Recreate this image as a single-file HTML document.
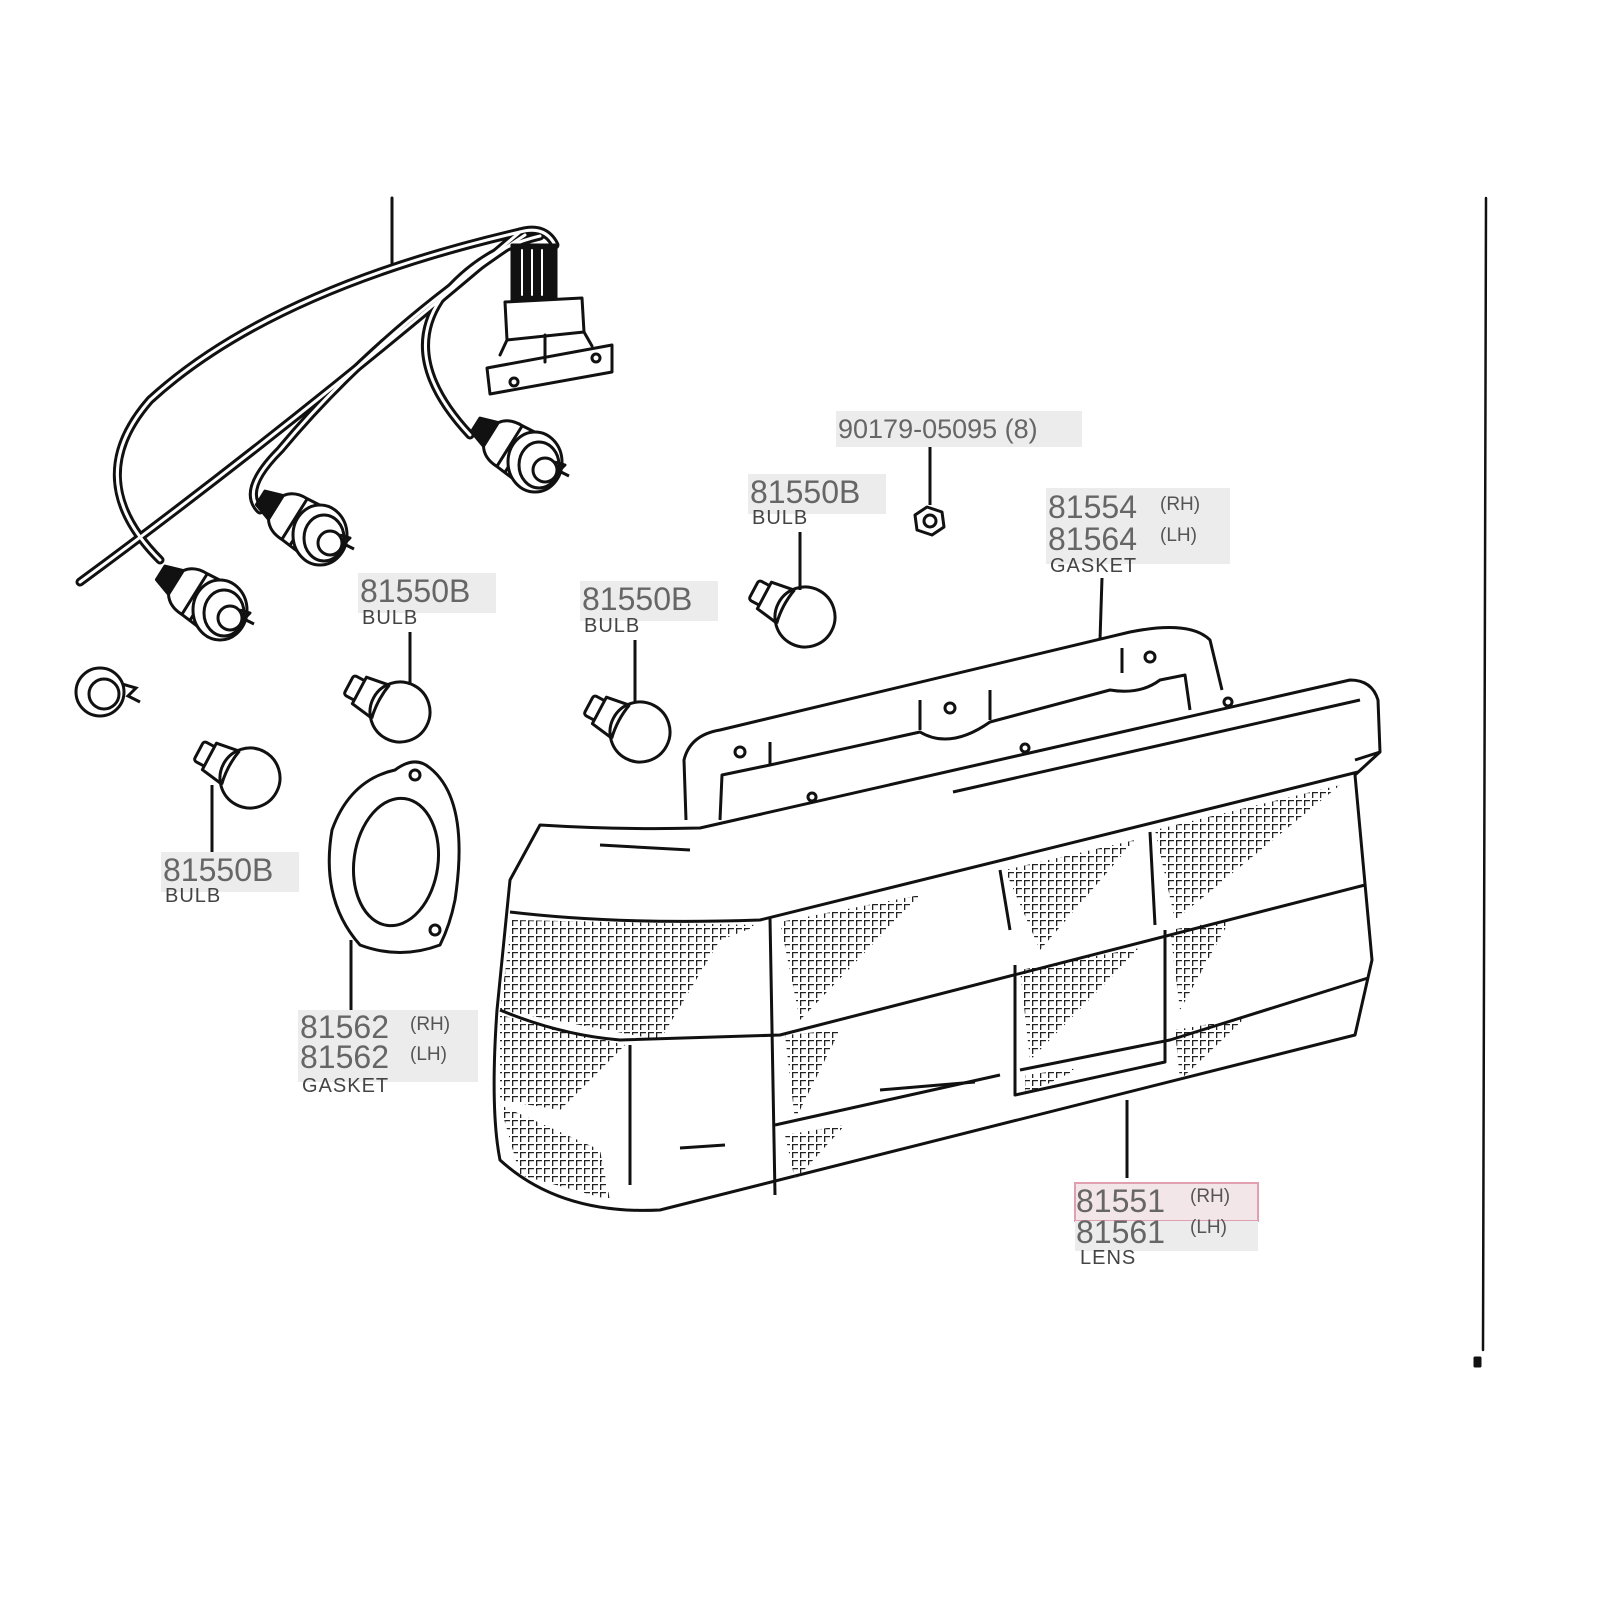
<!DOCTYPE html>
<html><head><style>
html,body{margin:0;padding:0;background:#fff;overflow:hidden}
svg{display:block}
.t{font-family:"Liberation Sans",sans-serif;fill:#666}
.big{font-size:32px}
.sm{font-size:20px;fill:#444;letter-spacing:1px}
.xs{font-size:19px;fill:#555}
</style></head><body>
<svg width="1600" height="1600" viewBox="0 0 1600 1600" xmlns="http://www.w3.org/2000/svg">
<defs>
<pattern id="g" width="8" height="8" patternUnits="userSpaceOnUse">
<path d="M0 0.5H6M0.5 0V6" stroke="#222" stroke-width="1.6"/>
</pattern>
<g id="bulb" fill="#fff" stroke="#111" stroke-width="3" stroke-linejoin="round">
<g transform="rotate(28)">
<rect x="-58" y="-11" width="14" height="22" rx="3"/>
<path d="M-46 -15 L-20 -19 L-20 19 L-46 15 Z"/>
<circle cx="0" cy="0" r="30"/>
<path d="M-22 -19 Q-26 0 -22 19" fill="none"/>
</g>
</g>
<g id="sock" fill="#fff" stroke="#111" stroke-width="3" stroke-linejoin="round">
<g transform="rotate(32)">
<path d="M-70 -8 L-52 -14 L-52 14 L-70 8 Z" fill="#111"/>
<path d="M-52 -14 Q-45 -24 -30 -24 L-8 -26 L-8 26 L-30 24 Q-45 24 -52 14 Z"/>
<path d="M-30 -24 L-30 24 M-20 -25 L-20 25"/>
</g>
<ellipse cx="0" cy="0" rx="27" ry="30"/>
<ellipse cx="4" cy="3" rx="20" ry="23"/>
<circle cx="10" cy="8" r="12"/>
<path d="M20 0 l10 3 l-6 6 l10 5" fill="none"/>
</g>
</defs>
<g fill="none" stroke="#111" stroke-width="3" stroke-linecap="round" stroke-linejoin="round">
<line x1="392" y1="198" x2="392" y2="265"/>
<line x1="1486" y1="198" x2="1483" y2="1350" stroke-width="2.5"/>
<rect x="1475" y="1358" width="5" height="8" fill="#111"/>
<!-- wires (double line) -->
<g stroke-width="9">
<path d="M80 582 Q300 420 520 232"/>
<path d="M160 560 Q80 480 150 400 Q270 290 520 232"/>
<path d="M260 510 Q240 490 280 450 Q380 330 525 235"/>
<path d="M470 435 Q400 360 440 300 Q480 250 540 236"/>
<path d="M520 232 Q545 225 555 245"/>
</g>
<g stroke="#fff" stroke-width="3">
<path d="M80 582 Q300 420 520 232"/>
<path d="M160 560 Q80 480 150 400 Q270 290 520 232"/>
<path d="M260 510 Q240 490 280 450 Q380 330 525 235"/>
<path d="M470 435 Q400 360 440 300 Q480 250 540 236"/>
<path d="M520 232 Q545 225 555 245"/>
</g>
<!-- connector -->
<rect x="512" y="245" width="44" height="55" fill="#111"/>
<path d="M522 250v45M532 250v45M542 250v45" stroke="#fff" stroke-width="2"/>
<path d="M505 302 L582 298 L584 332 L507 340 Z" fill="#fff"/>
<path d="M487 368 L612 345 L612 372 L490 394 Z" fill="#fff"/>
<path d="M507 340 L500 355 M584 332 L592 346 M545 335 L545 362"/>
<circle cx="514" cy="382" r="4"/><circle cx="596" cy="358" r="4"/>
</g>
<use href="#sock" x="535" y="462"/>
<use href="#sock" x="320" y="535"/>
<use href="#sock" x="220" y="610"/>
<g fill="none" stroke="#111" stroke-width="3">
<circle cx="100" cy="692" r="24"/><circle cx="104" cy="694" r="15"/>
<path d="M122 684 l14 4 l-8 8 l12 6"/>
</g>
<use href="#bulb" x="400" y="712"/>
<use href="#bulb" x="640" y="732"/>
<use href="#bulb" x="805" y="617"/>
<use href="#bulb" x="250" y="778"/>
<g fill="none" stroke="#111" stroke-width="3" stroke-linejoin="round">
<path d="M915 515 l12 -8 l15 5 l2 15 l-12 8 l-15 -5 z" fill="#fff"/>
<circle cx="930" cy="521" r="6"/>
<line x1="410" y1="632" x2="410" y2="685"/>
<line x1="635" y1="640" x2="635" y2="702"/>
<line x1="800" y1="532" x2="800" y2="590"/>
<line x1="930" y1="446" x2="930" y2="505"/>
<line x1="212" y1="785" x2="212" y2="852"/>
<line x1="1102" y1="578" x2="1100" y2="640"/>
<line x1="351" y1="940" x2="351" y2="1010"/>
<line x1="1127" y1="1100" x2="1127" y2="1178"/>
<path d="M395 770 Q415 755 430 768 Q470 800 455 900 Q450 925 440 945 Q400 960 360 945 Q320 900 332 830 Q350 780 395 770 Z" fill="#fff"/>
<ellipse cx="396" cy="862" rx="42" ry="64" transform="rotate(8 396 862)"/>
<circle cx="415" cy="775" r="5"/><circle cx="435" cy="930" r="5"/>
<path d="M686 820 L684 760 Q690 735 720 730 L1130 632 Q1190 620 1210 640 L1222 690"/>
<path d="M720 820 L722 775 L770 765 L920 732 Q950 750 990 722 L1110 690 Q1140 695 1160 680 L1185 675 L1190 710"/>
<path d="M770 742 v22 M920 700 v30 M990 690 v30 M1122 648 v25"/>
<circle cx="740" cy="752" r="5"/><circle cx="950" cy="708" r="5"/><circle cx="1150" cy="657" r="5"/>
<circle cx="1025" cy="748" r="4"/><circle cx="812" cy="797" r="4"/><circle cx="1228" cy="702" r="4"/>
<path d="M540 825 Q620 830 700 828 L1350 680 Q1372 680 1378 700 L1380 752 L1355 775 L1372 960 L1355 1035 L660 1210 Q560 1215 500 1160 Q490 1110 497 1010 L510 880 Z" fill="#fff"/>
<path d="M600 845 L690 850 M953 792 L1360 700 M1380 752 L1355 760"/>
<path d="M510 912 Q620 925 760 920 L1358 772"/>
<path d="M512 920 L760 925 L720 940 L660 1040 L500 1010 Z" fill="url(#g)" stroke="none"/>
<path d="M500 1015 L625 1045 L560 1110 L500 1100 Z" fill="url(#g)" stroke="none"/>
<path d="M500 1105 L600 1150 L610 1200 L520 1175 Z" fill="url(#g)" stroke="none"/>
<path d="M780 922 L920 895 L800 1020 Z" fill="url(#g)" stroke="none"/>
<path d="M785 1035 L840 1030 L795 1120 Z" fill="url(#g)" stroke="none"/>
<path d="M785 1135 L845 1125 L795 1180 Z" fill="url(#g)" stroke="none"/>
<path d="M1005 870 L1135 840 L1040 950 Z" fill="url(#g)" stroke="none"/>
<path d="M1155 830 L1340 785 L1175 920 Z" fill="url(#g)" stroke="none"/>
<path d="M1020 970 L1140 948 L1030 1060 Z" fill="url(#g)" stroke="none"/>
<path d="M1170 930 L1230 920 L1180 1010 Z" fill="url(#g)" stroke="none"/>
<path d="M1175 1030 L1245 1018 L1180 1080 Z" fill="url(#g)" stroke="none"/>
<path d="M1025 1075 L1080 1068 L1025 1095 Z" fill="url(#g)" stroke="none"/>
<path d="M500 1010 Q560 1035 620 1040 L780 1035 L1365 885"/>
<path d="M775 1125 L1000 1075 M1020 1070 L1170 1040 L1368 978"/>
<path d="M770 918 L775 1195 M630 1045 L630 1185 M1000 870 L1010 930 M1015 965 L1015 1095 L1165 1062 L1165 930 M1150 832 L1155 925"/>
<path d="M680 1148 L725 1145 M880 1090 L975 1082"/>
</g>
<g>
<rect x="836" y="411" width="246" height="36" fill="#ececec"/>
<text class="t" x="838" y="438" style="font-size:27px">90179-05095 (8)</text>
<rect x="748" y="474" width="138" height="40" fill="#ececec"/>
<text class="t big" x="750" y="503">81550B</text><text class="t sm" x="752" y="524">BULB</text>
<rect x="1046" y="488" width="184" height="76" fill="#ececec"/>
<text class="t big" x="1048" y="518">81554</text><text class="t xs" x="1160" y="510">(RH)</text>
<text class="t big" x="1048" y="550">81564</text><text class="t xs" x="1160" y="541">(LH)</text>
<text class="t sm" x="1050" y="572">GASKET</text>
<rect x="358" y="573" width="138" height="40" fill="#ececec"/>
<text class="t big" x="360" y="602">81550B</text><text class="t sm" x="362" y="624">BULB</text>
<rect x="580" y="581" width="138" height="40" fill="#ececec"/>
<text class="t big" x="582" y="610">81550B</text><text class="t sm" x="584" y="632">BULB</text>
<rect x="161" y="852" width="138" height="40" fill="#ececec"/>
<text class="t big" x="163" y="881">81550B</text><text class="t sm" x="165" y="902">BULB</text>
<rect x="298" y="1010" width="180" height="72" fill="#ececec"/>
<text class="t big" x="300" y="1038">81562</text><text class="t xs" x="410" y="1030">(RH)</text>
<text class="t big" x="300" y="1068">81562</text><text class="t xs" x="410" y="1060">(LH)</text>
<text class="t sm" x="302" y="1092">GASKET</text>
<rect x="1075" y="1183" width="183" height="38" fill="#f3e6e8" stroke="#e0a0b0" stroke-width="2"/>
<rect x="1075" y="1221" width="183" height="30" fill="#ececec"/>
<text class="t big" x="1076" y="1212">81551</text><text class="t xs" x="1190" y="1202">(RH)</text>
<text class="t big" x="1076" y="1243">81561</text><text class="t xs" x="1190" y="1233">(LH)</text>
<text class="t sm" x="1080" y="1264">LENS</text>
</g>
</svg>
</body></html>
